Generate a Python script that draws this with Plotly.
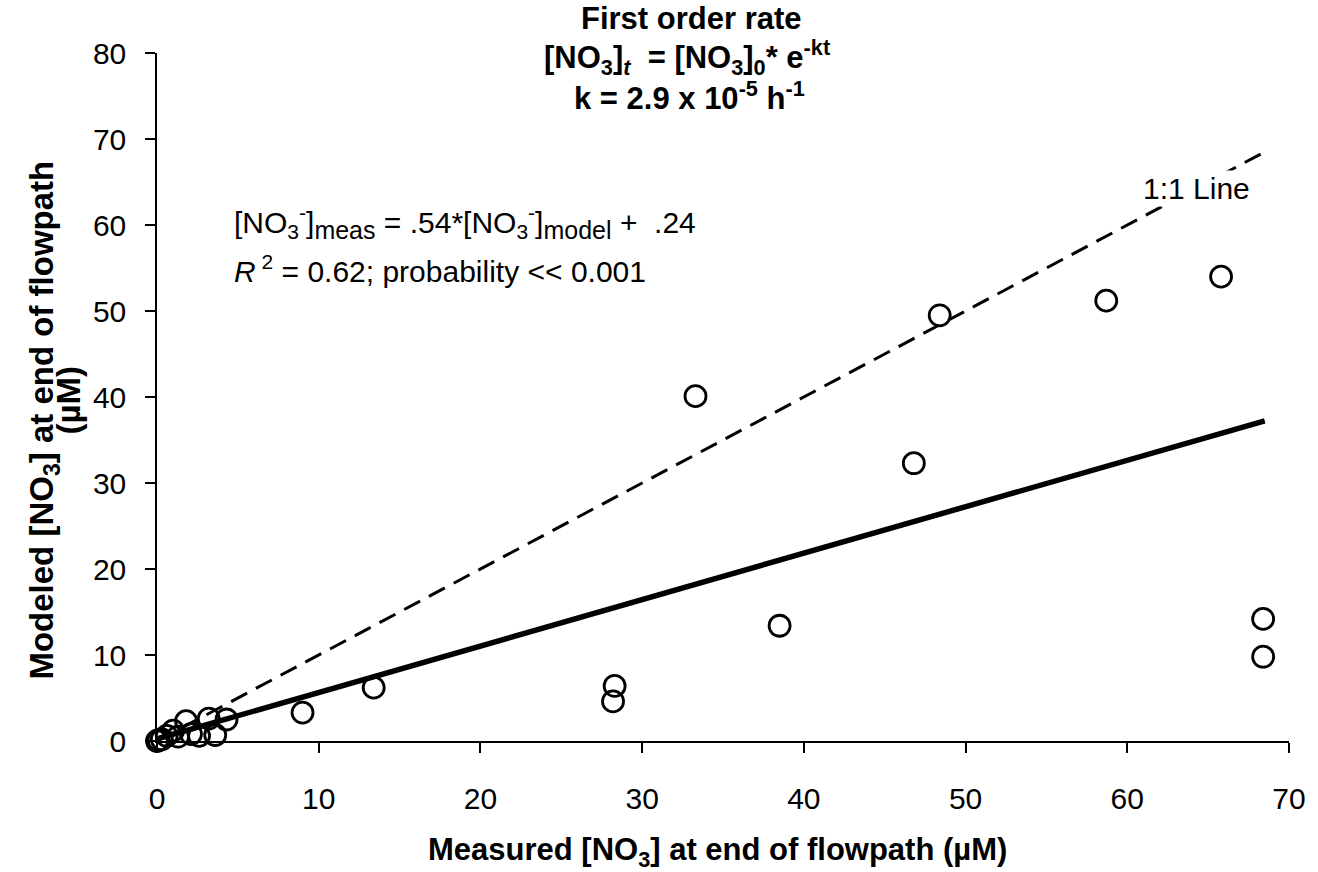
import plotly.graph_objects as go

# Data
measured = [0.0, 0.1, 0.3, 0.6, 1.0, 1.3, 1.8, 2.1, 2.6, 3.2, 3.6, 4.3,
            9.0, 13.4, 28.2, 28.3, 33.3, 38.5, 46.8, 48.4, 58.7, 65.8, 68.4, 68.4]
modeled = [0.0, 0.1, 0.2, 0.6, 1.2, 0.5, 2.3, 0.8, 0.6, 2.6, 0.7, 2.5,
           3.3, 6.2, 4.6, 6.4, 40.1, 13.4, 32.3, 49.5, 51.2, 54.0, 14.2, 9.8]
fit_slope = 0.54
fit_intercept = 0.24
line_x = [0.0, 68.5]
x_ticks = [0, 10, 20, 30, 40, 50, 60, 70]
y_ticks = [0, 10, 20, 30, 40, 50, 60, 70, 80]

FONT = "Arial, Liberation Sans, sans-serif"
L, R, T, B = 157, 1295, 53, 741
PW, PH = R - L, B - T

fig = go.Figure()
fig.add_trace(go.Scatter(x=line_x, y=line_x, mode="lines",
                         line=dict(color="black", width=3, dash="18px,10px"),
                         hoverinfo="skip"))
fig.add_trace(go.Scatter(x=line_x, y=[fit_slope * v + fit_intercept for v in line_x],
                         mode="lines", line=dict(color="black", width=5.5),
                         hoverinfo="skip"))
fig.add_trace(go.Scatter(x=measured, y=modeled, mode="markers", cliponaxis=False,
                         marker=dict(symbol="circle-open", size=21, color="black",
                                     line=dict(width=2.8, color="black"))))

axis_common = dict(showgrid=False, zeroline=False, showline=True, linecolor="black",
                   linewidth=1.5, ticks="outside", ticklen=10, tickwidth=1.5,
                   tickcolor="black", tickfont=dict(family=FONT, size=30, color="black"))

fig.update_layout(
    width=1318, height=872,
    margin=dict(l=L, r=1318 - R, t=T, b=872 - B),
    plot_bgcolor="white", paper_bgcolor="white",
    showlegend=False,
    xaxis=dict(range=[0, 70], tickvals=x_ticks, ticklabelstandoff=20, **axis_common),
    yaxis=dict(range=[0, 80], tickvals=y_ticks, ticklabelstandoff=13, **axis_common),
)

bold = dict(family=FONT, size=31, color="black")
ybold = dict(family=FONT, size=33, color="black")
norm = dict(family=FONT, size=30, color="black")


def px(xp, yp):
    return (xp - L) / PW, (B - yp) / PH


ann = [
    (694, 19, "<b>First order rate</b>"),
    (690, 57, "<b>[NO<sub>3</sub>]<sub><i>t</i></sub>  = [NO<sub>3</sub>]<sub>0</sub>* e<sup>-kt</sup></b>"),
    (692, 96, "<b>k = 2.9 x 10<sup>-5</sup> h<sup>-1</sup></b>"),
    (720, 852, "<b>Measured [NO<sub>3</sub>] at end of flowpath (µM)</b>"),
]
for xp, yp, txt in ann:
    xx, yy = px(xp, yp)
    fig.add_annotation(xref="paper", yref="paper", x=xx, y=yy, text=txt, font=bold,
                       showarrow=False, xanchor="center", yanchor="middle")

# y-axis title, two lines
xx, yy = px(43, 420)
fig.add_annotation(xref="paper", yref="paper", x=xx, y=yy,
                   text="<b>Modeled [NO<sub>3</sub>] at end of flowpath</b>", font=ybold,
                   textangle=-90, showarrow=False, xanchor="center", yanchor="middle")
xx, yy = px(68, 400)
fig.add_annotation(xref="paper", yref="paper", x=xx, y=yy,
                   text="<b>(µM)</b>", font=ybold,
                   textangle=-90, showarrow=False, xanchor="center", yanchor="middle")

# regression equation text
SUB = '<span style="font-size:25px">'
xx, yy = px(232, 222)
fig.add_annotation(xref="paper", yref="paper", x=xx, y=yy,
                   text=("[NO<sub>3</sub><sup>-</sup>]<sub>" + SUB + "meas</span></sub> = .54*[NO<sub>3</sub>"
                         "<sup>-</sup>]<sub>" + SUB + "model</span></sub> +  .24"),
                   font=norm, showarrow=False, xanchor="left", yanchor="middle")
xx, yy = px(232, 269)
fig.add_annotation(xref="paper", yref="paper", x=xx, y=yy,
                   text="<i>R</i><sup> 2</sup> = 0.62; probability << 0.001",
                   font=norm, showarrow=False, xanchor="left", yanchor="middle")

# 1:1 label
fig.add_annotation(x=64.3, y=64.2, xref="x", yref="y", text="1:1 Line", font=norm,
                   showarrow=False, bgcolor="white", xanchor="center", yanchor="middle",
                   borderpad=1)

fig.write_html("out.html")
